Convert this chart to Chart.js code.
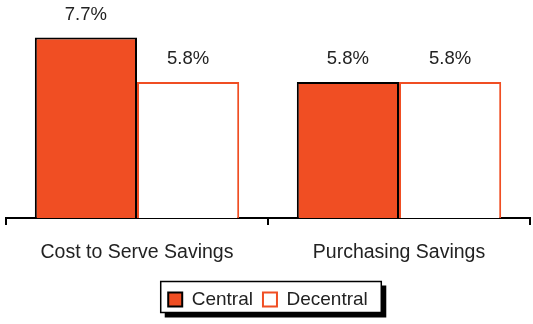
<!DOCTYPE html>
<html lang="en">
<head>
  <meta charset="UTF-8" />
  <title>Savings Chart</title>
  <style>
    html, body {
      margin: 0;
      padding: 0;
      background: #fff;
    }
    .chart-box {
      width: 533px;
      height: 324px;
    }
  </style>
  <script src="https://cdn.jsdelivr.net/npm/chart.js"></script>
</head>
<body>
  <div class="chart-box">
    <canvas id="savingsChart" width="533" height="324"></canvas>
  </div>
  <script>
    const categories = ['Cost to Serve Savings', 'Purchasing Savings'];
    const seriesNames = ['Central', 'Decentral'];
    const centralValues = [7.7, 5.8];
    const decentralValues = [5.8, 5.8];

    const orange = '#F04E23';
    const textColor = '#222';
    const fontFamily = "'Liberation Sans', Arial, sans-serif";

    // percent labels above each bar
    const valueLabels = {
      id: 'valueLabels',
      afterDatasetsDraw(chart) {
        const ctx = chart.ctx;
        ctx.save();
        ctx.font = '18.5px ' + fontFamily;
        ctx.fillStyle = textColor;
        ctx.textAlign = 'center';
        ctx.textBaseline = 'middle';
        chart.data.datasets.forEach((ds, i) => {
          chart.getDatasetMeta(i).data.forEach((bar, j) => {
            ctx.fillText(ds.data[j].toFixed(1) + '%', bar.x, bar.y - 23);
          });
        });
        ctx.restore();
      }
    };

    // framed legend with a drop shadow
    const legendFrame = {
      id: 'legendFrame',
      beforeDraw(chart) {
        const legend = chart.legend;
        if (!legend || !legend.legendHitBoxes.length) return;
        const boxes = legend.legendHitBoxes;
        const left = Math.min(...boxes.map(b => b.left)) - 7.5;
        const right = Math.max(...boxes.map(b => b.left + b.width)) + 13.5;
        const top = legend.top + 1.5;
        const bottom = legend.bottom - 6.5;
        const ctx = chart.ctx;
        ctx.save();
        ctx.fillStyle = '#000';
        ctx.fillRect(left + 4, top + 4, right - left + 1, bottom - top + 1);
        ctx.fillStyle = '#fff';
        ctx.fillRect(left, top, right - left, bottom - top);
        ctx.strokeStyle = '#000';
        ctx.lineWidth = 1.5;
        ctx.strokeRect(left, top, right - left, bottom - top);
        ctx.restore();
      }
    };

    new Chart(document.getElementById('savingsChart'), {
      type: 'bar',
      data: {
        labels: categories,
        datasets: [
          {
            label: seriesNames[0],
            data: centralValues,
            backgroundColor: orange,
            borderColor: '#000',
            borderWidth: 2,
            categoryPercentage: 0.78,
            barPercentage: 1
          },
          {
            label: seriesNames[1],
            data: decentralValues,
            backgroundColor: '#fff',
            borderColor: orange,
            borderWidth: 2,
            categoryPercentage: 0.78,
            barPercentage: 1
          }
        ]
      },
      options: {
        responsive: false,
        animation: false,
        devicePixelRatio: 1,
        layout: {
          padding: { left: 6, right: 3, top: 7, bottom: 5 }
        },
        plugins: {
          tooltip: { enabled: false },
          legend: {
            position: 'bottom',
            labels: {
              boxWidth: 14,
              boxHeight: 14,
              padding: 10,
              color: textColor,
              font: { family: fontFamily, size: 19 }
            }
          }
        },
        scales: {
          x: {
            afterFit(axis) { axis.height = 62; },
            grid: {
              drawOnChartArea: false,
              tickLength: 7,
              color: '#000',
              lineWidth: 2
            },
            border: { display: true, color: '#000', width: 2 },
            ticks: {
              padding: 16,
              color: textColor,
              font: { family: fontFamily, size: 19.5 }
            }
          },
          y: {
            display: false,
            min: 0,
            max: 9
          }
        }
      },
      plugins: [valueLabels, legendFrame]
    });
  </script>
</body>
</html>
